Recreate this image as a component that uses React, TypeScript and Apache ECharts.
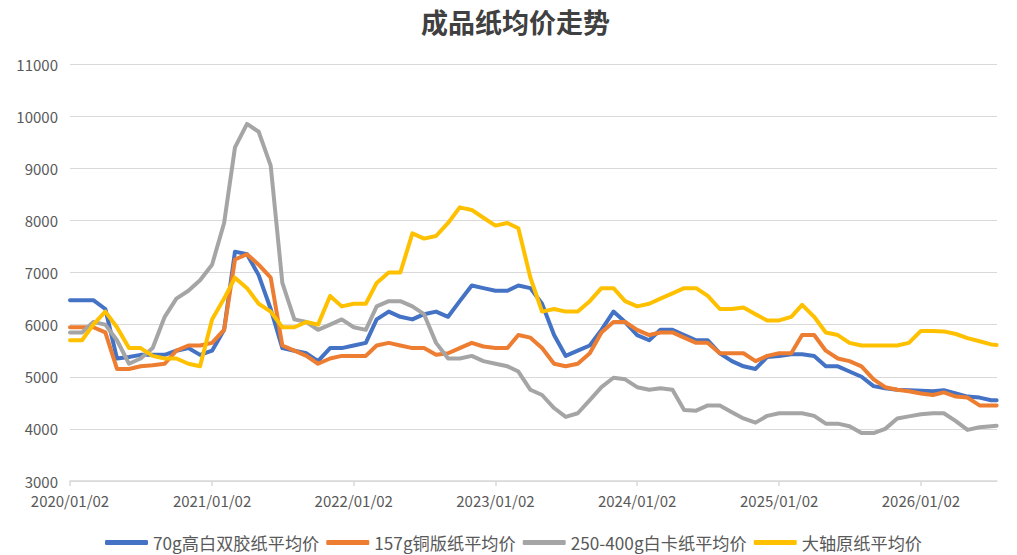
import React, { useEffect, useRef } from "react";
import * as echarts from "echarts";

// Monthly sample dates (2nd of each month) plus the last day shown
const dates: string[] = [];
for (let y = 2020; y <= 2026; y++) {
  for (let m = 1; m <= 12; m++) {
    if (y === 2026 && m > 7) break;
    dates.push(`${y}/${String(m).padStart(2, "0")}/02`);
  }
}
dates.push("2026/07/16");

const tickLabels = [
  "2020/01/02",
  "2021/01/02",
  "2022/01/02",
  "2023/01/02",
  "2024/01/02",
  "2025/01/02",
  "2026/01/02",
];
const axisEnd = "2026/07/17";

const seriesNames = [
  "70g高白双胶纸平均价",
  "157g铜版纸平均价",
  "250-400g白卡纸平均价",
  "大轴原纸平均价",
];

const blue70g = [
  6470, 6470, 6470, 6300, 5350, 5380, 5420, 5420, 5420, 5500, 5550, 5420,
  5500, 5900, 7400, 7350, 6950, 6300, 5550, 5500, 5450, 5300, 5550, 5550,
  5600, 5650, 6100, 6250, 6150, 6100, 6200, 6250, 6150, 6450, 6750, 6700,
  6650, 6650, 6750, 6700, 6400, 5800, 5400, 5500, 5600, 5900, 6250, 6050,
  5800, 5700, 5900, 5900, 5800, 5700, 5700, 5450, 5300, 5200, 5150, 5380,
  5400, 5430, 5430, 5400, 5200, 5200, 5100, 5000, 4820, 4780, 4750, 4740,
  4730, 4720, 4740, 4680, 4620, 4600, 4550, 4550,
];
const orange157g = [
  5950, 5950, 5950, 5850, 5150, 5150, 5200, 5220, 5250, 5500, 5600, 5600,
  5650, 5900, 7250, 7350, 7150, 6900, 5600, 5500, 5400, 5250, 5350, 5400,
  5400, 5400, 5600, 5650, 5600, 5550, 5550, 5420, 5450, 5550, 5650, 5580,
  5550, 5550, 5800, 5750, 5550, 5250, 5200, 5250, 5450, 5850, 6050, 6050,
  5900, 5800, 5850, 5850, 5750, 5650, 5650, 5450, 5450, 5450, 5300, 5400,
  5450, 5450, 5800, 5800, 5500, 5350, 5300, 5200, 4950, 4800, 4750, 4720,
  4680, 4650, 4700, 4620, 4600, 4450, 4450, 4450,
];
const grayBoard = [
  5850, 5850, 6050, 6000, 5700, 5250, 5350, 5550, 6150, 6500, 6650, 6850,
  7150, 7950, 9400, 9850, 9700, 9050, 6800, 6100, 6050, 5900, 6000, 6100,
  5950, 5900, 6350, 6450, 6450, 6350, 6200, 5650, 5350, 5350, 5400, 5300,
  5250, 5200, 5100, 4750, 4650, 4400, 4230, 4300, 4550, 4800, 4980, 4950,
  4800, 4750, 4780, 4750, 4360, 4350, 4450, 4450, 4320, 4200, 4120, 4250,
  4300, 4300, 4300, 4250, 4100, 4100, 4050, 3920, 3920, 4000, 4200, 4240,
  4280, 4300, 4300, 4150, 3980, 4030, 4050, 4060,
];
const yellowBase = [
  5700, 5700, 6000, 6250, 5950, 5550, 5550, 5400, 5350, 5350, 5250, 5200,
  6100, 6500, 6900, 6700, 6400, 6250, 5950, 5950, 6050, 6000, 6550, 6350,
  6400, 6400, 6800, 7000, 7000, 7750, 7650, 7700, 7950, 8250, 8200, 8050,
  7900, 7950, 7850, 6900, 6250, 6300, 6250, 6250, 6450, 6700, 6700, 6450,
  6350, 6400, 6500, 6600, 6700, 6700, 6550, 6300, 6300, 6330, 6200, 6080,
  6080, 6150, 6380, 6150, 5850, 5800, 5650, 5600, 5600, 5600, 5600, 5650,
  5880, 5880, 5870, 5820, 5740, 5680, 5620, 5610,
];

const colors = ["#4472C4", "#ED7D31", "#A5A5A5", "#FFC000"];
const FONT = "'Noto Sans CJK SC', 'Noto Sans', sans-serif";

const dayMs = 86400000;
const toDay = (s: string) => {
  const [y, m, d] = s.split("/").map(Number);
  return Math.round((Date.UTC(y, m - 1, d) - Date.UTC(2020, 0, 2)) / dayMs);
};

export default function App() {
  const ref = useRef<HTMLDivElement>(null);
  useEffect(() => {
    document.body.style.margin = "0";
    if (!ref.current) return;
    const chart = echarts.init(ref.current, null, { renderer: "svg" });
    const xs = dates.map(toDay);
    const tickDays = tickLabels.map(toDay);
    const all = [blue70g, orange157g, grayBoard, yellowBase];
    chart.setOption({
      animation: false,
      backgroundColor: "#ffffff",
      textStyle: { fontFamily: FONT },
      title: {
        text: "成品纸均价走势",
        left: 421,
        top: 8,
        padding: 0,
        textStyle: { fontSize: 27, fontWeight: "bold", color: "#404040", fontFamily: FONT },
      },
      legend: {
        data: seriesNames,
        left: 105,
        top: 534,
        padding: 0,
        itemGap: 7,
        itemWidth: 43,
        itemHeight: 5,
        icon: "roundRect",
        textStyle: { fontSize: 17.2, color: "#595959", fontFamily: FONT },
      },
      grid: { left: 70, right: 20, top: 64, bottom: 74 },
      xAxis: {
        type: "value",
        min: 0,
        max: toDay(axisEnd),
        axisLine: { show: true, lineStyle: { color: "#d9d9d9", width: 1.5 } },
        axisTick: {
          show: true,
          length: 5,
          customValues: tickDays,
          lineStyle: { color: "#d9d9d9", width: 1.5 },
        },
        axisLabel: {
          customValues: tickDays,
          margin: 12,
          fontSize: 15,
          color: "#595959",
          fontFamily: FONT,
          formatter: (v: number) => {
            const i = tickDays.indexOf(Math.round(v));
            return i >= 0 ? tickLabels[i] : "";
          },
        },
        splitLine: { show: false },
      },
      yAxis: {
        type: "value",
        min: 3000,
        max: 11000,
        interval: 1000,
        axisLine: { show: false },
        axisTick: { show: false },
        axisLabel: {
          fontSize: 15,
          color: "#595959",
          margin: 12,
          fontFamily: FONT,
          formatter: (v: number) => String(v),
        },
        splitLine: { lineStyle: { color: "#d9d9d9", width: 1.2 } },
      },
      series: seriesNames.map((name, k) => ({
        name,
        type: "line",
        showSymbol: false,
        symbol: "none",
        data: xs.map((x, i) => [x, all[k][i]]),
        lineStyle: { width: 4, color: colors[k], join: "round", cap: "round" },
        itemStyle: { color: colors[k] },
        z: 2 + k,
      })),
    });
    return () => chart.dispose();
  }, []);
  return <div ref={ref} style={{ width: 1017, height: 555 }} />;
}
